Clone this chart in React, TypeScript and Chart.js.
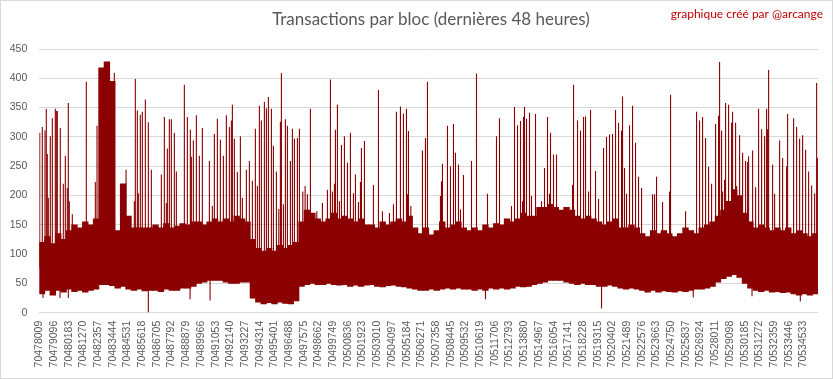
import React, { useEffect, useRef } from "react";
import { Chart, registerables } from "chart.js";

Chart.register(...registerables);

const TITLE = "Transactions par bloc (dernières 48 heures)";
const CREDIT = "graphique créé par @arcange";

const FIRST_BLOCK = 70478009;
const BLOCK_COUNT = 57600;
const COLUMN_BLOCKS = 400;

const tickBlocks = [
  70478009, 70479096, 70480183, 70481270, 70482357, 70483444, 70484531, 70485618,
  70486705, 70487792, 70488879, 70489966, 70491053, 70492140, 70493227, 70494314,
  70495401, 70496488, 70497575, 70498662, 70499749, 70500836, 70501923, 70503010,
  70504097, 70505184, 70506271, 70507358, 70508445, 70509532, 70510619, 70511706,
  70512793, 70513880, 70514967, 70516054, 70517141, 70518228, 70519315, 70520402,
  70521489, 70522576, 70523663, 70524750, 70525837, 70526924, 70528011, 70529098,
  70530185, 70531272, 70532359, 70533446, 70534533,
];

const yTicks = [0, 50, 100, 150, 200, 250, 300, 350, 400, 450];

// per 400-block column: densest range of transactions per block
const bandHigh = [
  120, 130, 118, 135, 125, 140, 150, 145, 155, 150,
  160, 418, 428, 395, 140, 220, 165, 145, 145, 145,
  145, 150, 145, 152, 145, 148, 152, 150, 155, 155,
  150, 155, 160, 155, 160, 155, 165, 160, 155, 125,
  110, 105, 110, 105, 115, 110, 115, 120, 155, 175,
  170, 160, 155, 160, 170, 160, 165, 160, 155, 160,
  150, 150, 145, 155, 150, 155, 160, 155, 165, 145,
  135, 145, 133, 140, 155, 145, 150, 155, 145, 140,
  145, 140, 150, 145, 152, 150, 160, 155, 160, 170,
  165, 165, 180, 180, 185, 180, 175, 180, 175, 165,
  160, 165, 160, 155, 150, 155, 160, 145, 145, 150,
  145, 135, 130, 140, 135, 140, 135, 130, 135, 145,
  140, 135, 145, 150, 155, 165, 175, 190, 210, 200,
  170, 155, 145, 150, 145, 140, 145, 140, 145, 135,
  140, 135, 130, 135,
];

const bandLow = [
  32, 38, 30, 38, 35, 40, 36, 38, 35, 38,
  40, 48, 48, 46, 42, 45, 40, 38, 40, 37,
  38, 38, 36, 40, 38, 38, 42, 42, 45, 50,
  52, 55, 55, 55, 52, 50, 50, 52, 52, 25,
  18, 15, 17, 15, 18, 16, 15, 20, 45, 48,
  50, 48, 48, 50, 48, 47, 48, 45, 47, 45,
  47, 48, 45, 44, 46, 47, 45, 44, 42, 40,
  38, 38, 40, 38, 40, 42, 40, 42, 40, 40,
  38, 40, 38, 42, 40, 42, 40, 42, 45, 44,
  45, 48, 50, 52, 55, 55, 55, 52, 50, 48,
  50, 48, 48, 45, 45, 47, 45, 42, 40, 42,
  40, 38, 35, 38, 35, 37, 36, 35, 37, 36,
  38, 40, 40, 42, 45, 52, 58, 62, 65, 60,
  50, 42, 38, 36, 38, 35, 36, 34, 35, 32,
  30, 32, 30, 32,
];

// blocks after FIRST_BLOCK with an isolated peak
const spikeOffsets = [
  30, 222, 422, 518, 592, 666, 814, 962, 1184, 1258, 1332, 1554, 1776, 1924, 2072, 2146, 2220, 2442,
  3478, 4144, 4270, 5550, 6416, 7030, 7104, 7252, 7326, 7474, 7622, 7844, 8066, 8288, 9028, 9250,
  9398, 9472, 9620, 9768, 9990, 10138, 10730, 10952, 11174, 11248, 11396, 11618, 11840, 12062,
  12580, 12802, 12950, 13172, 13394, 13616, 13838, 14060, 14208, 14282, 14430, 14652, 14874, 15022,
  15318, 15540, 15762, 15984, 16132, 16280, 16428, 16650, 16798, 16946, 17168, 17316, 17538, 17716,
  17834, 17908, 18056, 18204, 18352, 18574, 18722, 18870, 19092, 19240, 19492, 19662, 19832, 20054,
  20528, 20942, 21312, 21534, 21682, 21830, 21904, 22052, 22200, 22348, 22570, 22792, 23014, 23236,
  23384, 23606, 23754, 23828, 24050, 24716, 25086, 25382, 25900, 26196, 26418, 26714, 26936, 27158,
  27232, 27306, 27484, 28342, 28564, 28712, 29674, 29748, 29822, 30192, 30414, 30636, 30784, 31006,
  31154, 31376, 31968, 32338, 33152, 33818, 34040, 34928, 35150, 35372, 35594, 35742, 35816, 35890,
  36038, 36260, 36408, 36704, 36852, 37148, 37370, 37592, 37740, 37814, 38036, 38258, 39442, 39516,
  39812, 40034, 40256, 40404, 40626, 40774, 41144, 41366, 41736, 41958, 42180, 42402, 42624, 42846,
  43068, 43142, 43290, 43438, 43660, 43882, 44104, 44326, 44548, 45362, 45510, 45658, 46102, 46620,
  46694, 47804, 48618, 48840, 49062, 49284, 49506, 49728, 50024, 50246, 50320, 50468, 50542, 50690,
  50764, 50986, 51208, 51282, 51504, 51578, 51800, 52022, 52244, 52392, 52466, 52762, 52984, 53206,
  53428, 53650, 53798, 53872, 53946, 54242, 54390, 54760, 54982, 55278, 55352, 55796, 56018, 56240,
  56462, 56684, 56906, 57128, 57350, 57498, 57572,
];

const spikeValues = [
  307, 317, 311, 348, 271, 196, 301, 332, 348, 344, 344, 315, 220, 268, 213, 358, 190, 168,
  394, 223, 319, 409, 244, 190, 399, 345, 204, 338, 343, 364, 325, 244, 236, 334,
  187, 280, 330, 330, 307, 241, 389, 334, 312, 266, 294, 337, 268, 315,
  259, 182, 305, 331, 295, 268, 337, 317, 328, 355, 297, 240, 301, 196,
  244, 259, 225, 314, 216, 353, 328, 360, 349, 368, 348, 285, 241, 177,
  326, 409, 185, 330, 319, 259, 314, 297, 298, 314, 207, 216, 202, 348,
  173, 187, 210, 398, 207, 220, 312, 355, 190, 286, 301, 256, 307, 204,
  236, 189, 223, 281, 293, 218, 380, 173, 170, 185, 343, 352, 340, 348,
  202, 310, 182, 277, 298, 394, 199, 224, 254, 319, 250, 322, 273, 253,
  176, 235, 259, 408, 203, 301, 332, 182, 351, 320, 327, 190, 334, 351,
  331, 341, 199, 339, 179, 190, 247, 334, 203, 307, 270, 270, 218, 389,
  328, 311, 334, 335, 207, 346, 242, 194, 281, 300, 304, 305, 346, 324,
  311, 369, 247, 203, 320, 353, 290, 232, 213, 202, 202, 232, 189, 207,
  372, 173, 343, 328, 334, 298, 249, 220, 322, 336, 428, 311, 207, 227,
  358, 355, 324, 343, 324, 216, 303, 273, 259, 257, 267, 277, 214, 348,
  313, 301, 348, 313, 414, 253, 203, 294, 264, 250, 339, 332, 317, 297,
  303, 278, 241, 217, 204, 392, 264,
];

// blocks after FIRST_BLOCK with an isolated low value
const dipOffsets = [274, 1532, 2146, 8066, 11152, 12632, 33004, 41588, 48374, 52718, 56292];
const dipValues = [25, 25, 25, 0, 23, 21, 23, 7, 26, 28, 19];

const RED = "#8B0000";
const AXIS_TEXT = "#595959";
const GRID = "#d9d9d9";

function columnOf(offset: number) {
  return Math.min(bandHigh.length - 1, Math.floor(offset / COLUMN_BLOCKS));
}

const decorPlugin = {
  id: "decor",
  beforeDraw(chart: any) {
    const { ctx, width, height } = chart;
    ctx.save();
    ctx.fillStyle = "#ffffff";
    ctx.fillRect(0, 0, width, height);
    ctx.strokeStyle = GRID;
    ctx.lineWidth = 1;
    ctx.strokeRect(0.5, 0.5, width - 1, height - 1);
    ctx.restore();
  },
  afterDraw(chart: any) {
    const { ctx } = chart;
    ctx.save();
    ctx.fillStyle = AXIS_TEXT;
    ctx.font = "17px Lato";
    ctx.textAlign = "center";
    ctx.textBaseline = "alphabetic";
    ctx.fillText(TITLE, 431, 25);
    ctx.fillStyle = "#C00000";
    ctx.font = "12px Lato";
    ctx.textAlign = "right";
    ctx.fillText(CREDIT, 823, 18);
    ctx.restore();
  },
};

export default function App() {
  const ref = useRef<HTMLCanvasElement>(null);

  useEffect(() => {
    document.body.style.margin = "0";
    const bandData = bandHigh.map((h, i) => ({
      x: FIRST_BLOCK + COLUMN_BLOCKS * i + COLUMN_BLOCKS / 2,
      y: [bandLow[i], h],
    }));
    const spikeData = spikeOffsets.map((o, k) => {
      const c = columnOf(o);
      return { x: FIRST_BLOCK + o, y: [(bandLow[c] + bandHigh[c]) / 2, spikeValues[k]] };
    });
    const dipData = dipOffsets.map((o, k) => {
      const c = columnOf(o);
      return { x: FIRST_BLOCK + o, y: [dipValues[k], (bandLow[c] + bandHigh[c]) / 2] };
    });

    const chart = new Chart(ref.current!, {
      type: "bar",
      data: {
        datasets: [
          { data: bandData as any, backgroundColor: RED, barThickness: 5.7, grouped: false, borderWidth: 0 } as any,
          { data: spikeData as any, backgroundColor: RED, barThickness: 1.1, inflateAmount: 0, grouped: false, borderWidth: 0 } as any,
          { data: dipData as any, backgroundColor: RED, barThickness: 1.1, inflateAmount: 0, grouped: false, borderWidth: 0 } as any,
        ],
      },
      options: {
        animation: false,
        responsive: false,
        layout: { padding: { left: 0, top: 49, right: 15, bottom: 0 } },
        plugins: {
          legend: { display: false },
          tooltip: { enabled: false },
          title: { display: false },
        },
        scales: {
          x: {
            type: "linear",
            min: FIRST_BLOCK,
            max: FIRST_BLOCK + BLOCK_COUNT,
            offset: false,
            grid: { display: false, drawTicks: false, offset: false },
            border: { display: false },
            afterBuildTicks: (s: any) => {
              s.ticks = tickBlocks.map((v) => ({ value: v }));
            },
            afterFit: (s: any) => {
              s.height = 66.3;
            },
            ticks: {
              autoSkip: false,
              minRotation: 90,
              maxRotation: 90,
              padding: 8,
              color: AXIS_TEXT,
              font: { family: "Liberation Sans", size: 10.5 },
              callback: (v: any) => String(v),
            },
          },
          y: {
            min: 0,
            max: 450,
            afterBuildTicks: (s: any) => {
              s.ticks = yTicks.map((v) => ({ value: v }));
            },
            afterFit: (s: any) => {
              s.width = 39.3;
            },
            grid: { color: GRID, lineWidth: 1, drawTicks: false },
            border: { display: false },
            ticks: {
              padding: 12,
              color: AXIS_TEXT,
              font: { family: "Liberation Sans", size: 10.5 },
              callback: (v: any) => String(v),
            },
          },
        },
      } as any,
      plugins: [decorPlugin],
    });
    return () => chart.destroy();
  }, []);

  return (
    <div style={{ width: 833, height: 379 }}>
      <canvas ref={ref} width={833} height={379} style={{ display: "block" }} />
    </div>
  );
}
